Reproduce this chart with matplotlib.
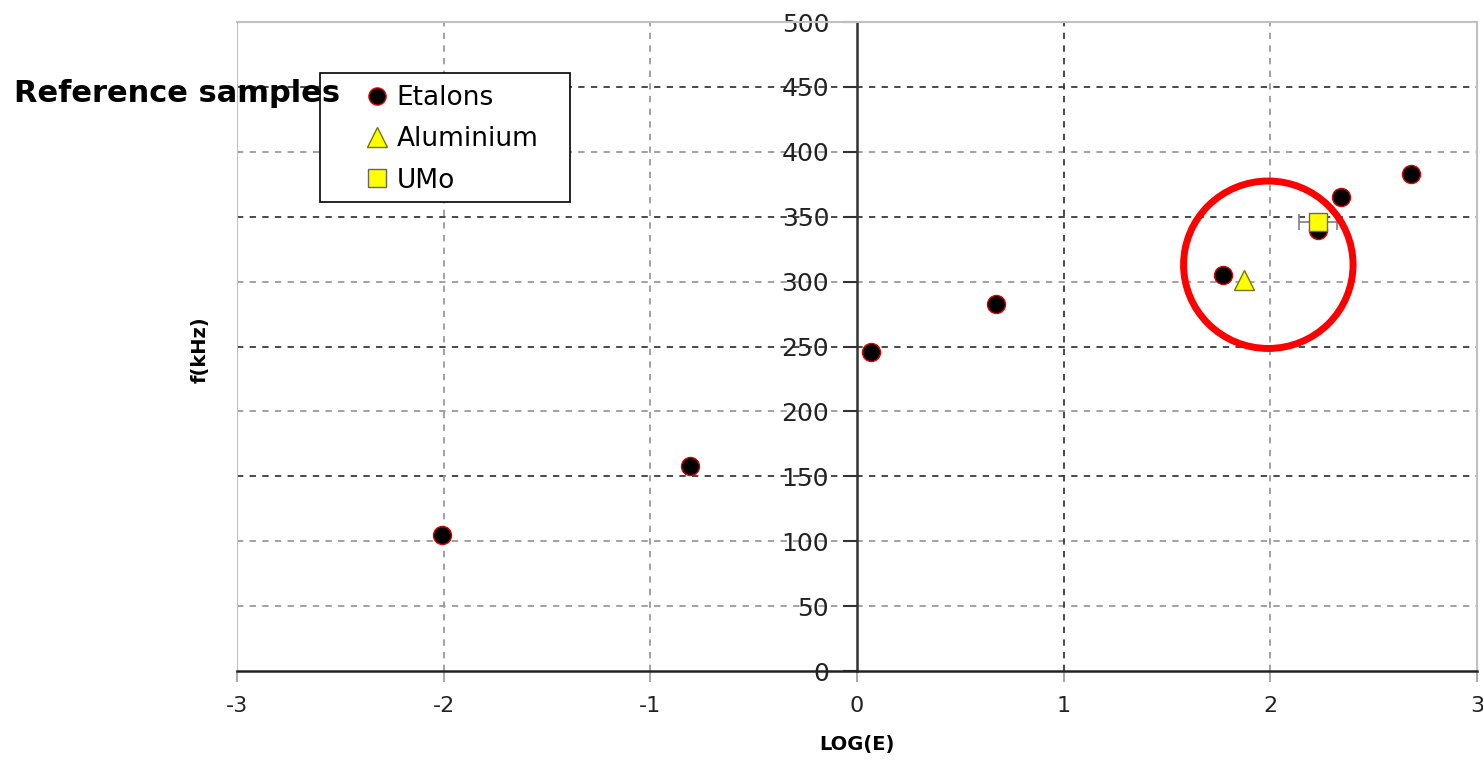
import matplotlib
matplotlib.use("Agg")
import matplotlib.pyplot as plt
from matplotlib.patches import Ellipse, Rectangle

plt.rcParams['font.family'] = ['DejaVu Sans']

# Reference samples: log(E) vs resonance frequency
etalon_logE = [-2.01, -0.81, 0.07, 0.67, 1.77, 2.23, 2.34, 2.68]
etalon_f = [105, 158, 246, 283, 305, 340, 365, 383]

alu_logE = [1.87]
alu_f = [301]

umo_logE = [2.23]
umo_f = [346]
umo_xerr = [0.09]

x_ticks = [-3, -2, -1, 0, 1, 2, 3]
y_ticks = [0, 50, 100, 150, 200, 250, 300, 350, 400, 450, 500]

W, H = 1483, 762
fig = plt.figure(figsize=(W / 100, H / 100), dpi=100)
ax = fig.add_axes([0.1598, 0.1194, 0.8362, 0.8517])
ax.set_xlim(-3, 3)
ax.set_ylim(0, 500)

# grid: alternating darker / lighter dashed lines
dark_h = {150, 250, 350, 450}
for y in y_ticks[1:-1]:
    col = '#3a3a3a' if y in dark_h else '#9a9a9a'
    ax.axhline(y, color=col, lw=1.3, ls=(0, (3.5, 3.5)), zorder=0)
for x in [-2, -1, 1, 2]:
    col = '#3a3a3a' if x == 1 else '#9a9a9a'
    ax.axvline(x, color=col, lw=1.3, ls=(0, (3.5, 3.5)), zorder=0)

# plot frame
ax.axvline(-3, color='#c0c0c0', lw=1.5, zorder=0)
for s in ['top', 'right']:
    ax.spines[s].set_color('#c0c0c0')
    ax.spines[s].set_linewidth(1.5)
ax.spines['bottom'].set_color('#222222')
ax.spines['bottom'].set_linewidth(1.8)
ax.spines['left'].set_position(('data', 0))
ax.spines['left'].set_color('#333333')
ax.spines['left'].set_linewidth(1.8)

ax.set_xticks(x_ticks)
ax.set_xticklabels([str(v) for v in x_ticks])
ax.set_yticks(y_ticks)
ax.set_yticklabels([str(v) for v in y_ticks])
ax.tick_params(axis='y', direction='out', length=10, width=1.5, color='#333333',
               labelsize=18, pad=10, labelcolor='#222222')
ax.tick_params(axis='x', direction='out', length=8, width=1.2, color='#999999',
               labelsize=16, pad=10, labelcolor='#222222')

ax.errorbar(umo_logE, umo_f, xerr=umo_xerr, fmt='none', ecolor='#888888',
            elinewidth=1.3, capsize=6, capthick=1.3, zorder=3)
ax.plot(etalon_logE, etalon_f, 'o', ms=13, mfc='black', mec='#e00000', mew=1.0,
        ls='none', label='Etalons', zorder=4)
ax.plot(alu_logE, alu_f, '^', ms=15, mfc='#ffff00', mec='#777700', mew=1.0,
        ls='none', label='Aluminium', zorder=5)
ax.plot(umo_logE, umo_f, 's', ms=13, mfc='#ffff00', mec='#666666', mew=1.0,
        ls='none', label='UMo', zorder=5)

# highlight ring around the sample region
ax.add_patch(Ellipse((1.99, 313), 0.82, 129, fill=False, ec='#ff0000', lw=5, zorder=6))

ax.set_xlabel('LOG(E)', fontsize=14, fontweight='bold', labelpad=14)
fig.text(0.135, 0.541, 'f(kHz)', rotation=90, fontsize=14, fontweight='bold',
         ha='center', va='center')

# legend box drawn as a separate frame, entries on top
fig.patches.append(Rectangle((320 / W, 1 - 202 / H), 250 / W, 129 / H,
                             transform=fig.transFigure, facecolor='white',
                             edgecolor='black', lw=1.2, zorder=9))
leg = fig.legend(loc='upper left', bbox_to_anchor=(351 / W, 1 - 85 / H), fontsize=19,
                 frameon=False, handletextpad=-0.28, handlelength=2.0,
                 borderpad=0, labelspacing=0.58, borderaxespad=0, markerscale=0.95)
leg.set_zorder(10)

fig.text(0.0095, 0.877, 'Reference samples', fontsize=22, fontweight='bold',
         ha='left', va='center', zorder=11)

fig.savefig('out.png', dpi=100)
